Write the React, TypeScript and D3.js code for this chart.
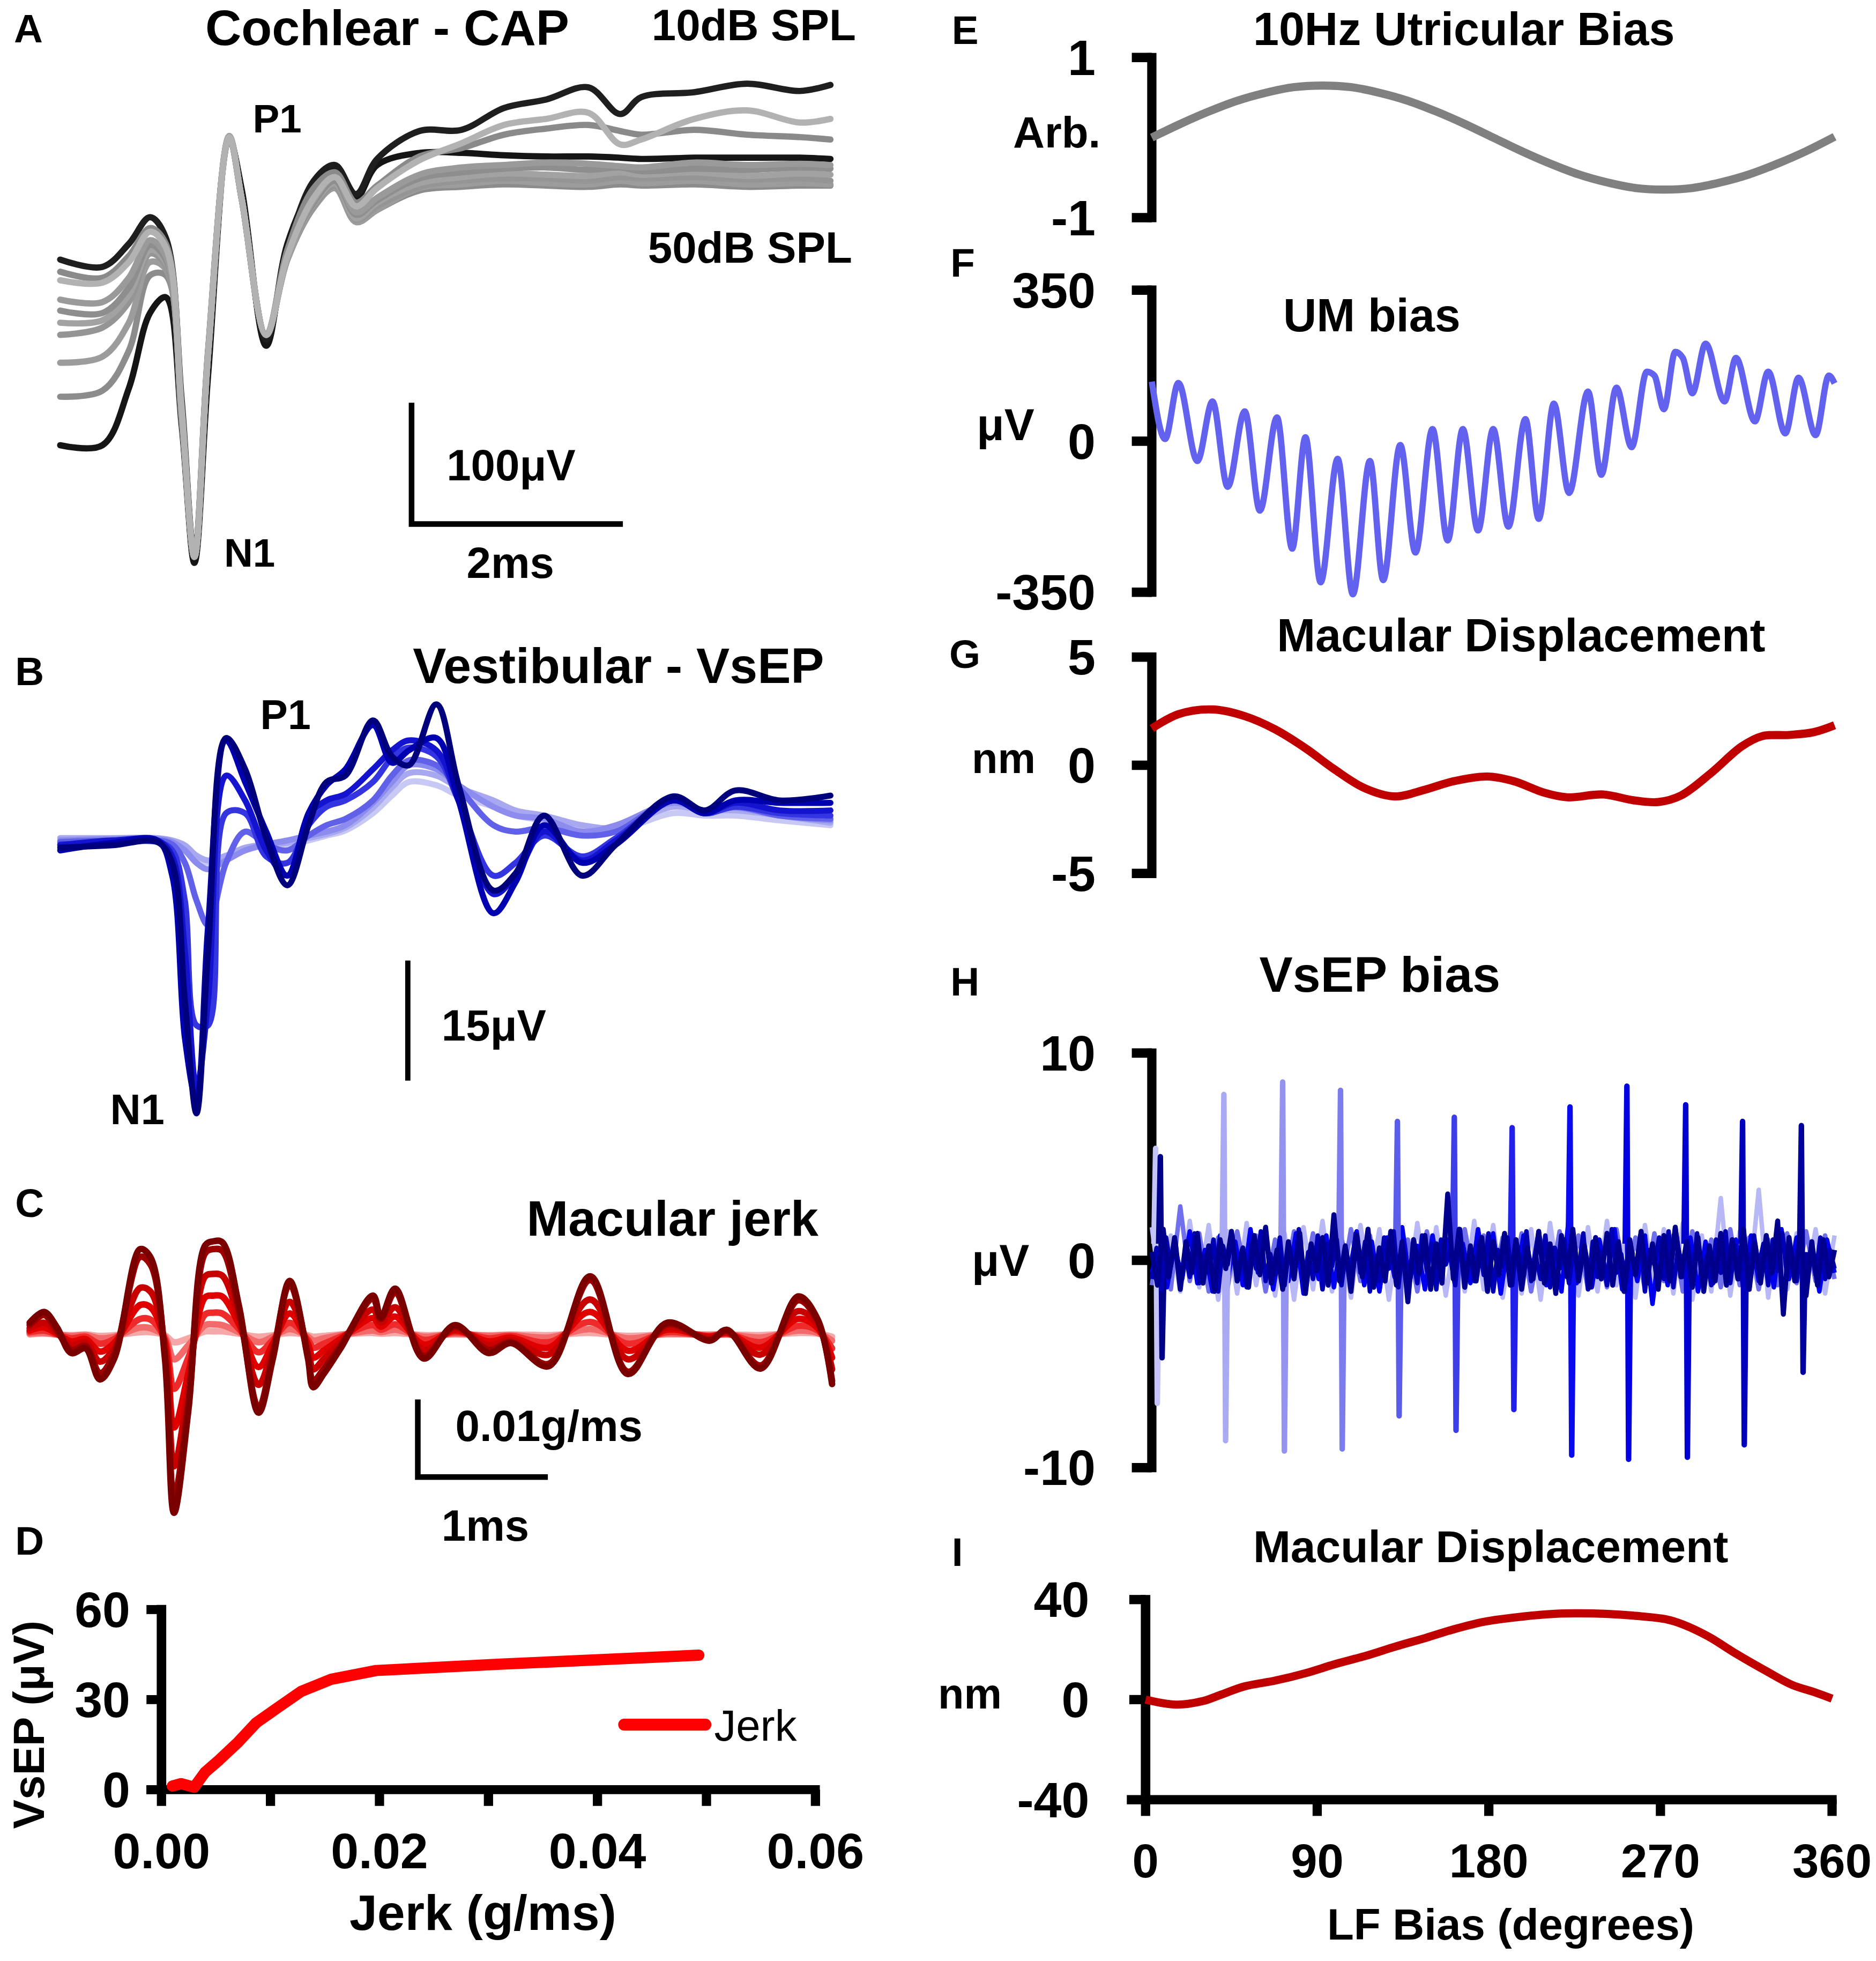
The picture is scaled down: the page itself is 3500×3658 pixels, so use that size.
import * as d3 from 'd3'

const FONT = "'Liberation Sans', Arial, Helvetica, sans-serif"

// ---------- A: cochlear CAP, μV against ms ----------
const capTime = [0, 0.4, 0.65, 0.85, 1.0, 1.15, 1.27, 1.4, 1.6, 1.72, 1.95, 2.15, 2.4, 2.6, 2.8, 3.0, 3.4, 3.8, 4.2, 4.6, 5.0, 5.3, 5.5, 6.0, 6.5, 7.0, 7.29]
const capSeries = [
  [0, 0, 47, 109, 122, 16, -97, 58, 252, 210, 82, 166, 214, 230, 204, 231, 241, 241, 239, 238, 238, 237, 236, 237, 237, 237, 236],
  [153, 147, 166, 188, 171, 37, -90, 78, 254, 204, 87, 161, 218, 231, 207, 236, 259, 260, 278, 285, 295, 273, 287, 291, 298, 292, 297],
  [40, 45, 78, 140, 140, 21, -92, 75, 254, 202, 91, 153, 196, 212, 184, 194, 210, 213, 215, 214, 213, 215, 214, 215, 213, 214, 214],
  [68, 73, 101, 151, 145, 22, -92, 75, 253, 202, 91, 153, 196, 212, 184, 194, 212, 215, 218, 216, 215, 218, 216, 218, 215, 216, 215],
  [91, 97, 118, 158, 148, 23, -92, 75, 254, 202, 91, 154, 197, 214, 186, 197, 213, 218, 220, 220, 218, 221, 220, 221, 219, 220, 218],
  [101, 103, 124, 161, 151, 24, -92, 75, 255, 202, 91, 154, 199, 216, 187, 200, 216, 221, 224, 223, 222, 225, 223, 225, 222, 224, 223],
  [111, 109, 130, 165, 153, 25, -92, 75, 254, 202, 91, 156, 200, 218, 190, 202, 220, 225, 228, 229, 227, 229, 226, 228, 227, 229, 228],
  [120, 118, 138, 169, 156, 27, -92, 75, 253, 202, 91, 156, 202, 221, 192, 204, 223, 229, 231, 233, 232, 230, 229, 233, 231, 232, 231],
  [143, 138, 156, 179, 166, 32, -92, 76, 254, 202, 91, 161, 212, 225, 200, 214, 238, 245, 256, 261, 264, 259, 256, 260, 256, 254, 252],
  [136, 134, 151, 176, 163, 29, -92, 76, 254, 202, 91, 156, 204, 221, 197, 212, 235, 249, 264, 269, 274, 248, 252, 269, 276, 266, 269],
]
const capColors = ['#151515', '#1e1e1e', '#8c8c8c', '#9c9c9c', '#959595', '#a2a2a2', '#8e8e8e', '#9a9a9a', '#8a8a8a', '#b2b2b2']

// ---------- B: VsEP, μV against ms ----------
const vsepTime = [0, 0.5, 0.92, 1.06, 1.18, 1.29, 1.4, 1.57, 1.75, 1.95, 2.15, 2.35, 2.52, 2.7, 2.96, 3.14, 3.3, 3.56, 3.77, 4.1, 4.31, 4.58, 4.94, 5.26, 5.8, 6.1, 6.39, 6.81, 7.29]
const vsepSeries = [
  [-0.2, -0.2, 0, -0.3, -0.9, -2.2, -2.8, -2.2, -1.25, -0.6, -0.5, 0, 0.6, 1.25, 3.4, 5.6, 7.3, 6.9, 5.6, 4.2, 3.1, 2.5, 1.6, 1.25, 3.4, 3.1, 3.1, 2.5, 1.9],
  [0.3, 0.3, 0.3, 0, -0.6, -1.9, -2.5, -1.9, -0.9, -0.5, -0.3, 0.3, 0.8, 1.6, 4.1, 6.6, 8.4, 8.1, 6.6, 5.0, 3.75, 3.1, 1.9, 1.6, 4.2, 3.75, 3.75, 3.1, 2.2],
  [0, 0.2, 0.2, -0.2, -1.25, -2.8, -3.6, -2.5, -1.25, -0.5, 0, 0.6, 1.1, 1.9, 4.7, 7.3, 9.4, 8.9, 6.9, 4.2, 3.1, 2.7, 1.1, 1.9, 4.7, 3.75, 4.1, 3.1, 2.5],
  [-0.2, 0, 0, -0.5, -2.8, -7.5, -10.6, -2.8, 1.1, -0.5, -1.25, 0.6, 1.9, 2.7, 5.0, 8.1, 10.0, 9.4, 6.6, 1.9, 1.1, 1.6, 0.6, 1.1, 5.0, 3.4, 4.2, 3.1, 2.7],
  [-0.5, -0.3, -0.2, -1.25, -7.5, -23.1, -23.1, 3.4, 3.4, -2.0, -2.8, 1.9, 4.2, 5.0, 7.3, 10.3, 11.6, 10.5, 5.0, -4.4, -2.8, 0.6, -2.0, 0.3, 5.0, 3.4, 4.2, 3.4, 3.1],
  [-0.6, 0, 0, -2.0, -13.75, -30.9, -20, 8.1, 5.0, -1.25, -4.4, 3.1, 5.0, 5.8, 8.9, 11.25, 12.5, 11.25, 5.0, -6.7, -4.4, 1.1, -2.5, 0, 5.0, 3.4, 4.7, 3.75, 3.75],
  [-1.25, -0.3, 0, -4.4, -24.7, -32.5, -10.6, 12.5, 7.3, 1.1, -4.4, 3.4, 6.9, 8.9, 14.4, 9.7, 11.25, 12.8, 5.0, -9.1, -5.2, 1.9, -2.8, -0.5, 5.0, 3.4, 5.0, 4.7, 4.7],
  [-0.9, -0.6, -0.2, -2.8, -20, -34.1, -13.75, 12.8, 8.9, 0.3, -5.6, 1.9, 7.3, 8.1, 15.0, 10.5, 9.4, 17.0, 6.9, -6.25, -4.1, 3.1, -4.4, -0.5, 5.5, 3.75, 6.25, 5.0, 5.6],
]
const vsepColors = ['#c8c8f4', '#a8a8f0', '#8c8cee', '#6060e8', '#3434e0', '#1414d0', '#0000b0', '#00007c']

// ---------- C: macular jerk, x0.001 g/ms against ms ----------
const jerkTime = [0, 0.11, 0.21, 0.32, 0.43, 0.54, 0.65, 0.85, 0.93, 1.04, 1.11, 1.22, 1.35, 1.41, 1.48, 1.61, 1.76, 1.87, 2.0, 2.14, 2.18, 2.26, 2.39, 2.64, 2.7, 2.81, 3.03, 3.27, 3.53, 3.7, 3.99, 4.31, 4.6, 4.9, 5.23, 5.36, 5.62, 5.91, 6.06, 6.17]
const jerkSeries = [
  [0.0, 0.1, 0.0, -0.1, 0.0, -0.2, -0.1, 0.3, 0.3, -0.1, -1.0, -0.5, 0.4, 0.4, 0.4, 0.1, -0.3, -0.1, 0.2, -0.1, -0.3, -0.2, 0.0, 0.2, 0.1, 0.2, -0.1, 0.0, -0.1, 0.0, -0.1, 0.2, -0.2, 0.0, 0.0, 0.0, -0.1, 0.2, 0.1, -0.3],
  [0.1, 0.2, 0.0, -0.2, -0.1, -0.5, -0.3, 0.9, 0.8, -0.3, -3.2, -1.4, 1.2, 1.3, 1.2, 0.3, -1.0, -0.3, 0.7, -0.3, -0.8, -0.5, -0.1, 0.5, 0.3, 0.6, -0.3, 0.1, -0.2, -0.1, -0.4, 0.7, -0.5, 0.1, -0.1, 0.0, -0.4, 0.5, 0.2, -0.8],
  [0.3, 0.5, 0.0, -0.5, -0.3, -1.2, -0.6, 2.0, 1.9, -0.6, -7.0, -3.0, 2.6, 2.8, 2.7, 0.7, -2.3, -0.7, 1.5, -0.7, -1.7, -1.2, -0.3, 1.2, 0.6, 1.3, -0.7, 0.3, -0.5, -0.2, -1.0, 1.6, -1.2, 0.3, -0.2, 0.1, -1.0, 1.1, 0.5, -1.8],
  [0.5, 0.9, 0.1, -0.9, -0.6, -2.2, -1.1, 3.8, 3.5, -1.0, -12.0, -5.0, 4.8, 5.0, 4.9, 1.3, -4.2, -1.2, 2.7, -1.2, -3.0, -2.1, -0.6, 2.1, 1.0, 2.3, -1.3, 0.5, -0.9, -0.4, -1.7, 2.9, -2.1, 0.6, -0.3, 0.2, -1.7, 2.0, 0.8, -3.0],
  [0.8, 1.5, 0.2, -1.4, -1.0, -3.5, -1.8, 6.0, 5.5, -1.6, -17.0, -7.0, 7.5, 7.8, 7.6, 2.0, -6.5, -1.8, 4.2, -1.8, -4.5, -3.2, -1.0, 3.2, 1.5, 3.5, -2.0, 0.7, -1.4, -0.7, -2.6, 4.5, -3.2, 0.9, -0.5, 0.3, -2.6, 3.0, 1.2, -4.5],
  [1.2, 2.5, 0.5, -2.0, -1.5, -5.0, -2.5, 10.0, 9.0, -2.5, -21.0, -9.0, 10.5, 11.0, 10.8, 3.0, -9.5, -2.5, 6.5, -2.8, -6.0, -4.5, -1.5, 4.6, 2.0, 5.4, -2.8, 1.0, -2.0, -1.0, -3.8, 7.0, -4.8, 1.3, -0.7, 0.5, -4.0, 4.4, 1.7, -6.0],
  [1.5, 2.9, 0.9, -2.4, -1.8, -5.8, -3.1, 11.0, 9.9, -3.1, -23.0, -9.8, 11.5, 12.0, 11.9, 3.6, -10.1, -3.1, 6.9, -3.1, -6.8, -5.1, -1.8, 5.0, 2.2, 5.9, -3.1, 1.2, -2.4, -1.1, -4.1, 7.5, -5.1, 1.5, -0.8, 0.6, -4.4, 4.9, 1.9, -6.4],
]
const jerkColors = ['#f6a8a8', '#f26a6a', '#ee2a2a', '#e00000', '#c80000', '#9c0000', '#7a0000']

// ---------- D: VsEP amplitude against jerk ----------
const dJerk = [0.001, 0.0018, 0.003, 0.004, 0.0053, 0.007, 0.0087, 0.0105, 0.0128, 0.0156, 0.0197, 0.0311, 0.0493]
const dVsep = [1.2, 2.0, 0.8, 5.8, 9.9, 15.7, 22.3, 26.9, 32.7, 36.8, 39.7, 41.8, 44.8]
const dXTicks = [0, 0.01, 0.02, 0.03, 0.04, 0.05, 0.06]
const dXLabels = ['0.00', '0.02', '0.04', '0.06']
const dYTicks = [0, 30, 60]

// ---------- E: 10 Hz utricular bias (arb.) against LF bias phase ----------
const eDeg = [0, 15, 30, 45, 60, 75, 90, 105, 120, 135, 150, 165, 180, 195, 210, 225, 240, 255, 270, 285, 300, 315, 330, 345, 360]
const eVal = [0, 0.17, 0.325, 0.46, 0.56, 0.63, 0.65, 0.63, 0.56, 0.46, 0.325, 0.17, 0, -0.17, -0.325, -0.46, -0.56, -0.63, -0.65, -0.63, -0.56, -0.46, -0.325, -0.17, 0.01]

// ---------- F: UM bias, μV ----------
const fDeg = [0, 7, 14, 24, 32, 40, 49, 57, 66, 74, 81, 89, 98, 106, 115, 122, 131, 139, 148, 156, 164, 172, 180, 188, 197, 204, 212, 220, 230, 237, 245, 253, 261, 265, 270, 276, 280, 285, 292, 302, 308, 318, 325, 334, 341, 350, 357, 360]
const fVal = [138, 5, 135, -46, 92, -106, 69, -161, 55, -249, 9, -327, -41, -355, -46, -322, -9, -258, 28, -230, 28, -207, 28, -198, 51, -180, 87, -120, 115, -78, 124, -14, 161, 152, 74, 207, 193, 111, 226, 92, 193, 46, 161, 18, 147, 14, 152, 134]

// ---------- G: macular displacement, nm ----------
const gDeg = [0, 14, 32, 49, 65, 81, 96, 112, 128, 144, 159, 177, 191, 207, 219, 238, 254, 267, 279, 295, 311, 322, 336, 349, 360]
const gVal = [1.7, 2.36, 2.58, 2.27, 1.66, 0.79, -0.17, -1.05, -1.44, -1.13, -0.74, -0.52, -0.74, -1.27, -1.48, -1.35, -1.62, -1.7, -1.4, -0.35, 0.87, 1.35, 1.4, 1.53, 1.85]

// ---------- H: VsEP bias, μV (noise traces sampled at fixed steps) ----------
const hNavyStep = 3
const hNavy = [
  0.4, -1.2, 1.5, -0.8, 1.1, -1.4, 0.9, -0.6, 1.3, -1.1,
  0.7, -1.5, 1.0, -0.4, 1.4, -1.0, 0.6, -1.3, 1.2, -0.7,
  1.6, -1.1, 0.5, -1.4, 0.9, -0.9, 1.3, -1.6, 0.8, -0.5,
  1.1, -1.2, 2.2, -1.0, 0.7, -1.5, 1.2, -0.8, 1.5, -1.3,
  0.6, -1.0, 1.4, -1.2, 0.9, -2.0, 1.0, -0.6, 1.2, -1.4,
  0.8, -1.1, 3.2, -0.9, 1.5, -1.3, 0.7, -1.0, 1.1, -1.5,
  0.9, -0.7, 1.3, -1.2, 1.0, -1.4, 0.6, -0.9, 1.4, -1.1,
  0.8, -1.6, 1.2, -0.8, 1.5, -1.0, 0.7, -1.3, 1.1, -0.9,
  1.3, -1.2, 0.9, -1.5, 1.0, -0.7, 1.4, -1.1, 0.8, -1.4,
  1.2, -1.0, 1.6, -0.8, 0.9, -1.3, 1.1, -1.5, 0.7, -1.0,
  1.3, -1.2, 1.0, -0.9, 1.5, -1.4, 0.8, -1.1, 1.2, -0.6,
  1.9, -2.6, 1.1, -1.0, 1.4, -1.7, 0.9, -1.2, 1.0, -0.8,
  0.5,
]
const hDarkStep = 2.5
const hDark = [
  -0.9, 0.6, -1.4, 1.1, -0.3, 0.9, -1.2, 0.4, -0.8, 1.3,
  -1.1, 0.2, -0.6, 1.0, -1.5, 0.7, -0.2, 1.2, -0.9, 0.5,
  -1.3, 0.8, -0.4, 1.4, -1.0, 0.3, -0.7, 1.1, -1.2, 0.6,
  -0.5, 1.5, -1.1, 0.4, -0.9, 1.2, -1.4, 0.8, -0.3, 1.0,
  -1.2, 0.5, -0.8, 1.3, -0.6, 0.9, -1.5, 0.2, -1.0, 1.1,
  -0.4, 1.4, -1.3, 0.7, -0.9, 0.3, -1.1, 1.2, -0.5, 0.8,
  -1.4, 1.0, -0.2, 0.6, -1.2, 1.5, -0.8, 0.4, -1.0, 0.9,
  -0.7, 1.3, -1.5, 0.5, -0.3, 1.1, -1.2, 0.8, -0.6, 1.4,
  -1.0, 0.2, -0.9, 1.2, -1.3, 0.6, -0.4, 1.0, -1.1, 0.7,
  -0.5, 1.3, -1.4, 0.9, -0.8, 0.4, -1.2, 1.5, -0.6, 0.3,
  -1.1, 0.8, -0.7, 1.2, -1.5, 0.5, -0.2, 1.1, -0.9, 1.4,
  -1.3, 0.6, -0.4, 0.9, -1.0, 1.3, -0.8, 0.2, -1.2, 1.0,
  -0.6, 1.4, -1.1, 0.7, -0.9, 0.5, -1.4, 1.2, -0.3, 0.8,
  -1.2, 1.0, -0.5, 1.3, -0.8, 0.4, -1.0, 0.9, -1.3, 0.6,
  -0.7, 1.1, -0.9, 0.5, -0.4,
]
const hBlueStep = 4
const hBlue = [
  -0.6, 1.0, -1.3, 0.7, -0.9, 1.4, -1.1, 0.5, -1.5, 1.2,
  -0.8, 0.9, -1.2, 1.5, -0.6, 1.1, -1.4, 0.8, -1.0, 1.3,
  -1.6, 0.6, -0.9, 1.2, -1.3, 1.0, -0.7, 1.4, -1.2, 0.9,
  -1.5, 1.1, -0.8, 1.6, -1.0, 0.7, -1.4, 1.2, -0.9, 1.0,
  -1.3, 0.8, -1.1, 1.5, -0.7, 1.3, -1.6, 0.9, -1.0, 1.2,
  -0.8, 1.4, -1.2, 0.6, -1.5, 2.2, -1.1, 0.8, -1.3, 1.0,
  -0.9, 1.5, -1.4, 0.7, -1.0, 1.2, -2.1, 0.9, -1.2, 1.6,
  -0.8, 1.1, -1.5, 0.9, -1.1, 1.3, -0.7, 1.0, -1.4, 1.2,
  -1.0, 0.8, -1.3, 1.5, -0.9, 1.1, -1.2, 0.7, -1.5, 1.0,
  -0.6,
]
const hLightStep = 5
const hLight = [
  1.6, -1.8, 1.2, -1.5, 1.9, -1.3, 1.7, -1.9, 1.4, -1.6,
  1.8, -1.2, 1.5, -1.7, 1.3, -1.9, 1.6, -1.4, 1.9, -1.5,
  1.2, -1.8, 1.7, -1.3, 1.5, -1.9, 1.4, -1.6, 1.8, -1.2,
  1.6, -1.7, 1.3, -1.5, 1.9, -1.4, 1.7, -1.8, 1.2, -1.6,
  1.5, -1.9, 1.8, -1.3, 1.4, -1.7, 1.6, -1.5, 1.9, -1.2,
  1.3, -1.8, 1.7, -1.4, 1.5, -1.6, 1.8, -1.9, 1.2, -1.5,
  3.0, -1.7, 1.4, -1.3, 3.4, -1.8, 1.6, -1.4, 1.3, -1.2,
  1.5, -1.6, 1.2,
]
const hMid = [
  -1.2, 1.5, -1.4, 2.6, -1.0, 1.3, -1.5, 1.1, -1.3, 1.4,
  -0.9, 1.2, -1.5, 1.0, -1.2, 1.4, -1.1, 1.3, -1.4, 0.9,
  -1.3, 1.5, -1.0, 1.2, -1.4, 1.1, -1.3, 1.0, -1.5, 1.4,
  -1.1, 1.3, -1.2, 1.5, -1.0, 1.2, -1.4, 1.1, -1.2, 1.3,
  -1.5, 1.0, -1.3, 1.4, -1.1, 1.2, -1.4, 1.0, -1.3, 1.5,
  -1.2, 1.1, -1.4, 1.3, -1.0, 1.2, -1.5, 1.4, -1.1, 1.0,
  -1.3, 1.5, -1.2, 1.1, -1.4, 1.0, -1.2, 1.3, -1.1, 1.4,
  -1.0, 1.2, -0.9,
]
// spikes: phase (deg), peak and trough (μV)
const hSpikeDeg = [2.5, 38.5, 69.5, 100, 130, 160, 190.5, 221, 251, 282, 312, 343, 5]
const hSpikeTop = [5.4, 8.0, 8.6, 8.2, 6.7, 6.9, 6.4, 7.4, 8.4, 7.5, 6.7, 6.5, 5.0]
const hSpikeBottom = [-6.9, -8.7, -9.2, -9.1, -7.5, -8.2, -7.2, -9.4, -9.6, -9.5, -8.9, -5.4, -4.7]
const hSpikeColors = ['#c4c4f8', '#aaaaf4', '#9494f0', '#7c7cee', '#5c5cea', '#3e3ee8', '#2020ea', '#0a0aee', '#0000e0', '#0000d0', '#0000bc', '#00009e', '#000088']

// ---------- I: macular displacement, nm ----------
const iDeg = [0, 16, 30, 39, 52, 68, 84, 99, 115, 131, 147, 162, 178, 194, 210, 225, 241, 257, 273, 282, 295, 310, 326, 339, 351, 360]
const iVal = [0, -2, -0.6, 1.8, 5.3, 7.6, 10.6, 14.1, 17.4, 21.2, 24.7, 28.2, 31.2, 32.9, 34.1, 34.5, 34.3, 33.5, 32.1, 30, 25.3, 18.2, 11.2, 5.9, 2.9, 0.4]
const degTicks = [0, 90, 180, 270, 360]

// ---------- helpers ----------
const curveCR = d3.curveCatmullRom.alpha(0.5)

function trace(xv: number[], yv: number[], xs: any, ys: any, curve: any = curveCR) {
  return (
    d3
      .line<number>()
      .x((_, i) => xs(xv[i]))
      .y((d) => ys(d))
      .curve(curve)(yv) || ''
  )
}

function stepDeg(n: number, step: number) {
  return d3.range(n).map((i) => Math.min(360, i * step))
}

function Txt({ x, y, size, anchor = 'start', weight = 700, transform, children }: any) {
  return (
    <text x={x} y={y} fontSize={size} textAnchor={anchor} fontWeight={weight} fill="#000" transform={transform}>
      {children}
    </text>
  )
}

// vertical axis with chunky left ticks, as in the right column
function LeftAxis({ x, scale, ticks, labels }: any) {
  const [lo, hi] = scale.domain()
  return (
    <g>
      <line x1={x} x2={x} y1={scale(hi) - 3.7} y2={scale(lo) + 3.7} stroke="#000" strokeWidth={7.4} />
      {ticks.map((t: number) => (
        <line key={t} x1={x - 16} x2={x} y1={scale(t)} y2={scale(t)} stroke="#000" strokeWidth={7.5} />
      ))}
      {labels.map((l: any) => (
        <Txt key={l.v} x={x - 45} y={scale(l.v) + 14} size={40} anchor="end">
          {l.t}
        </Txt>
      ))}
    </g>
  )
}

export default function App() {
  const xAB = d3.scaleLinear().domain([0, 7.29]).range([48, 664])
  const yA = d3.scaleLinear().domain([0, 100]).range([356, 259])
  const yB = d3.scaleLinear().domain([0, 15]).range([672, 576])
  const xC = d3.scaleLinear().domain([0, 1]).range([23.6, 127.6])
  const yC = d3.scaleLinear().domain([0, 10]).range([1067, 1005])
  const xD = d3.scaleLinear().domain([0, 0.06]).range([129, 652])
  const yD = d3.scaleLinear().domain([0, 60]).range([1431, 1287])
  const xR = d3.scaleLinear().domain([0, 360]).range([921, 1467])
  const yE = d3.scaleLinear().domain([-1, 1]).range([174, 46])
  const yF = d3.scaleLinear().domain([-350, 350]).range([473.5, 232])
  const yG = d3.scaleLinear().domain([-5, 5]).range([698.4, 525.4])
  const yH = d3.scaleLinear().domain([-10, 10]).range([1173.5, 842])
  const xI = d3.scaleLinear().domain([0, 360]).range([916, 1465])
  const yI = d3.scaleLinear().domain([-40, 40]).range([1439, 1279])

  const spikePath = (i: number) => {
    const d = hSpikeDeg[i]
    return trace([d - 1.4, d - 0.5, d + 0.4, d + 1.3, d + 2.2], [0.8, hSpikeTop[i], hSpikeBottom[i], -0.9, 0.4], xR, yH, d3.curveLinear)
  }

  // scale bar lengths come from the trace scales
  const barA = yA(0) - yA(100)
  const bar2ms = xAB(2) - xAB(0)
  const barB = yB(0) - yB(15)
  const barC = yC(0) - yC(10)
  const bar1ms = xC(1) - xC(0)

  return (
    <svg
      width={3500}
      height={3658}
      viewBox="0 0 1500 1568"
      style={{ position: 'absolute', left: 0, top: 0 }}
      fontFamily={FONT}
    >
      <rect width={1500} height={1568} fill="#fff" />

      {/* panel letters */}
      <Txt x={11} y={34} size={32}>A</Txt>
      <Txt x={12} y={548} size={32}>B</Txt>
      <Txt x={12} y={973} size={32}>C</Txt>
      <Txt x={12} y={1243} size={32}>D</Txt>
      <Txt x={761} y={35} size={32}>E</Txt>
      <Txt x={760} y={221} size={32}>F</Txt>
      <Txt x={759} y={534} size={32}>G</Txt>
      <Txt x={760} y={796} size={32}>H</Txt>
      <Txt x={761} y={1252} size={32}>I</Txt>

      {/* ===== A ===== */}
      <Txt x={164} y={36} size={40}>Cochlear - CAP</Txt>
      <Txt x={521} y={32} size={35}>10dB SPL</Txt>
      <Txt x={518} y={210} size={35}>50dB SPL</Txt>
      <Txt x={202} y={106} size={32}>P1</Txt>
      <Txt x={179} y={453} size={32}>N1</Txt>
      <g fill="none" strokeWidth={5} strokeLinejoin="round" strokeLinecap="round">
        {capSeries.map((s, i) => (
          <path key={i} d={trace(capTime, s, xAB, yA)} stroke={capColors[i]} />
        ))}
      </g>
      <path d={`M329,${419 - barA}V419H${329 + bar2ms}`} fill="none" stroke="#000" strokeWidth={4.5} />
      <Txt x={357} y={384} size={35}>100μV</Txt>
      <Txt x={373} y={462} size={35}>2ms</Txt>

      {/* ===== B ===== */}
      <Txt x={330} y={546} size={40}>Vestibular - VsEP</Txt>
      <Txt x={208} y={583} size={33}>P1</Txt>
      <Txt x={88} y={899} size={34}>N1</Txt>
      <g fill="none" strokeWidth={4.8} strokeLinejoin="round" strokeLinecap="round">
        {vsepSeries.map((s, i) => (
          <path key={i} d={trace(vsepTime, s, xAB, yB)} stroke={vsepColors[i]} />
        ))}
      </g>
      <line x1={326} x2={326} y1={864 - barB} y2={864} stroke="#000" strokeWidth={4.2} />
      <Txt x={353} y={832} size={35}>15μV</Txt>

      {/* ===== C ===== */}
      <Txt x={421} y={988} size={40}>Macular jerk</Txt>
      <g fill="none" strokeWidth={5.2} strokeLinejoin="round" strokeLinecap="round">
        {jerkSeries.map((s, i) => (
          <path key={i} d={trace(jerkTime, s, xC, yC)} stroke={jerkColors[i]} />
        ))}
      </g>
      <path d={`M334,${1181 - barC}V1181H${334 + bar1ms}`} fill="none" stroke="#000" strokeWidth={4.5} />
      <Txt x={364} y={1152} size={35}>0.01g/ms</Txt>
      <Txt x={353} y={1232} size={35}>1ms</Txt>

      {/* ===== D ===== */}
      <g stroke="#000">
        <line x1={xD(0)} x2={xD(0)} y1={yD(60) - 3.7} y2={yD(0) + 3.7} strokeWidth={7.6} />
        <line x1={xD(0) - 12} x2={xD(0.06) + 3.5} y1={yD(0)} y2={yD(0)} strokeWidth={7.2} />
        {dYTicks.map((t) => (
          <line key={t} x1={xD(0) - 12} x2={xD(0)} y1={yD(t)} y2={yD(t)} strokeWidth={7.2} />
        ))}
        {dXTicks.map((t) => (
          <line key={t} x1={xD(t)} x2={xD(t)} y1={yD(0)} y2={yD(0) + 13} strokeWidth={7.4} />
        ))}
      </g>
      {dYTicks.map((t) => (
        <Txt key={t} x={104} y={yD(t) + 14} size={40} anchor="end">
          {t}
        </Txt>
      ))}
      {dXLabels.map((l) => (
        <Txt key={l} x={xD(+l)} y={1494} size={40} anchor="middle">
          {l}
        </Txt>
      ))}
      <Txt x={386} y={1543} size={40} anchor="middle">Jerk (g/ms)</Txt>
      <Txt x={0} y={0} size={35} anchor="middle" transform="translate(35,1379) rotate(-90)">
        VsEP (μV)
      </Txt>
      <path
        d={trace(dJerk, dVsep, xD, yD, d3.curveLinear)}
        fill="none"
        stroke="#ff0000"
        strokeWidth={9}
        strokeLinejoin="round"
        strokeLinecap="round"
      />
      <line x1={499} x2={564} y1={1379} y2={1379} stroke="#ff0000" strokeWidth={9.5} strokeLinecap="round" />
      <Txt x={571} y={1392} size={35} weight={400}>Jerk</Txt>

      {/* ===== E ===== */}
      <Txt x={1002} y={36} size={37}>10Hz Utricular Bias</Txt>
      <Txt x={810} y={118} size={35}>Arb.</Txt>
      <LeftAxis x={921} scale={yE} ticks={[1, -1]} labels={[{ v: 1, t: '1' }, { v: -1, t: '-1' }]} />
      <path d={trace(eDeg, eVal, xR, yE)} fill="none" stroke="#808080" strokeWidth={6.5} />

      {/* ===== F ===== */}
      <Txt x={1026} y={265} size={37}>UM bias</Txt>
      <Txt x={781} y={352} size={36}>μV</Txt>
      <LeftAxis
        x={921}
        scale={yF}
        ticks={[350, 0, -350]}
        labels={[{ v: 350, t: '350' }, { v: 0, t: '0' }, { v: -350, t: '-350' }]}
      />
      <path
        d={trace(fDeg, fVal, xR, yF, d3.curveMonotoneX)}
        fill="none"
        stroke="#6262ee"
        strokeWidth={5}
        strokeLinejoin="round"
      />

      {/* ===== G ===== */}
      <Txt x={1021} y={521} size={37}>Macular Displacement</Txt>
      <Txt x={777} y={618} size={34}>nm</Txt>
      <LeftAxis x={921} scale={yG} ticks={[5, 0, -5]} labels={[{ v: 5, t: '5' }, { v: 0, t: '0' }, { v: -5, t: '-5' }]} />
      <path d={trace(gDeg, gVal, xR, yG)} fill="none" stroke="#c00000" strokeWidth={6.5} />

      {/* ===== H ===== */}
      <Txt x={1007} y={793} size={40}>VsEP bias</Txt>
      <Txt x={777} y={1020} size={36}>μV</Txt>
      <LeftAxis
        x={921}
        scale={yH}
        ticks={[10, 0, -10]}
        labels={[{ v: 10, t: '10' }, { v: 0, t: '0' }, { v: -10, t: '-10' }]}
      />
      <g fill="none" strokeLinejoin="round" strokeWidth={3.6}>
        <path d={trace(stepDeg(hLight.length, hLightStep), hLight, xR, yH, d3.curveLinear)} stroke="#b8b8f6" />
        <path d={trace(stepDeg(hMid.length, hLightStep), hMid, xR, yH, d3.curveLinear)} stroke="#7070ec" />
        <path d={trace(stepDeg(hBlue.length, hBlueStep), hBlue, xR, yH, d3.curveLinear)} stroke="#0000ee" />
        {hSpikeDeg.map((_, i) => (
          <path key={i} d={spikePath(i)} stroke={hSpikeColors[i]} strokeWidth={4.4} />
        ))}
        <path d={trace(stepDeg(hDark.length, hDarkStep), hDark, xR, yH, d3.curveLinear)} stroke="#0000b4" />
        <path d={trace(stepDeg(hNavy.length, hNavyStep), hNavy, xR, yH, d3.curveLinear)} stroke="#00008c" strokeWidth={4} />
      </g>

      {/* ===== I ===== */}
      <Txt x={1002} y={1249} size={36}>Macular Displacement</Txt>
      <Txt x={750} y={1366} size={34}>nm</Txt>
      <g stroke="#000">
        <line x1={xI(0)} x2={xI(0)} y1={yI(40) - 3.7} y2={yI(-40) + 3.7} strokeWidth={7.6} />
        <line x1={xI(0) - 15} x2={xI(360) + 3.7} y1={yI(-40)} y2={yI(-40)} strokeWidth={7.4} />
        {[40, 0].map((t) => (
          <line key={t} x1={xI(0) - 13} x2={xI(0)} y1={yI(t)} y2={yI(t)} strokeWidth={7.4} />
        ))}
        {degTicks.map((t) => (
          <line key={t} x1={xI(t)} x2={xI(t)} y1={yI(-40)} y2={yI(-40) + 13} strokeWidth={7.4} />
        ))}
      </g>
      {[40, 0, -40].map((t) => (
        <Txt key={t} x={871} y={yI(t) + 14} size={40} anchor="end">
          {t}
        </Txt>
      ))}
      {degTicks.map((t) => (
        <Txt key={t} x={xI(t)} y={1501} size={38} anchor="middle">
          {t}
        </Txt>
      ))}
      <Txt x={1208} y={1551} size={35} anchor="middle">LF Bias (degrees)</Txt>
      <path d={trace(iDeg, iVal, xI, yI)} fill="none" stroke="#c00000" strokeWidth={6.5} />
    </svg>
  )
}
